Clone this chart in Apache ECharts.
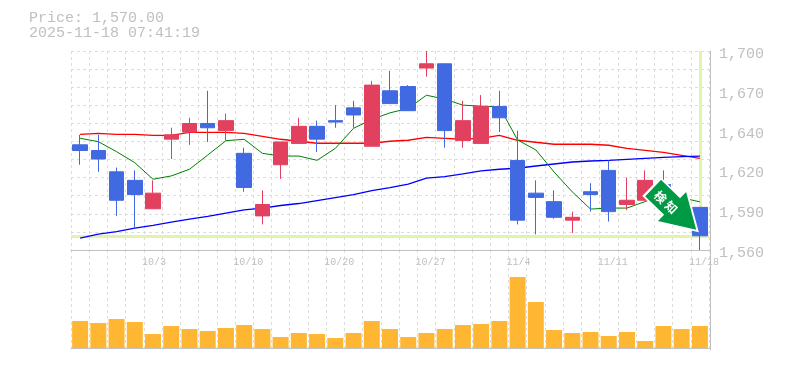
<!DOCTYPE html>
<html><head><meta charset="utf-8">
<style>html,body{margin:0;padding:0;background:#fff}#c{width:785px;height:370px}</style>
<script src="https://cdn.jsdelivr.net/npm/echarts@6/dist/echarts.min.js"></script>
</head><body><div id="c"></div>
<script>
const titleLines = ['Price: 1,570.00', '2025-11-18 07:41:19'];
const dates = ['9/29','9/30','10/1','10/2','10/3','10/6','10/7','10/8','10/9','10/10','10/14','10/15','10/16','10/17','10/20','10/21','10/22','10/23','10/24','10/27','10/28','10/29','10/30','10/31','11/4','11/5','11/6','11/7','11/10','11/11','11/12','11/13','11/14','11/17','11/18'];
const shownDates = ['10/3','10/10','10/20','10/27','11/4','11/11','11/18'];
const priceTickLabels = ['1,560','1,590','1,620','1,640','1,670','1,700'];
const lastPrice = 1570;
const signalText = '検\u2005知';
// open, close, low, high
const ohlc = [
[1634,1630,1620,1641],[1630,1624,1615,1641],[1615,1595,1584,1618],[1609,1599,1575,1616],[1589,1600,1589,1609],
[1638,1641,1624,1646],[1643,1649,1634,1653],[1649,1646,1636,1672],[1644,1651,1637,1656],[1628,1604,1601,1632],
[1584,1592,1578,1602],[1620,1636,1610,1636],[1635,1647,1635,1653],[1647,1638,1629,1651],[1651,1650,1646,1662],
[1660,1655,1646,1665],[1633,1676,1633,1679],[1672,1663,1663,1686],[1675,1658,1658,1676],[1688,1691,1682,1700],
[1691,1644,1632,1691],[1637,1651,1632,1665],[1635,1661,1635,1669],[1661,1653,1643,1672],[1623,1581,1578,1644],
[1600,1597,1571,1609],[1594,1583,1582,1602],[1581,1583,1572,1587],[1601,1599,1587,1607],[1616,1587,1580,1623],
[1592,1595,1588,1611],[1595,1609,1595,1616],[1606,1598,1594,1616],[1590,1582,1580,1592],[1590,1570,1560,1590]];
const maShort = [1638.6,1636.2,1629.2,1621.4,1609.8,1612.1,1616.8,1626.8,1636.9,1637.9,1628,1626.1,1626.1,1623.1,1631.5,1645.6,1651.9,1656.5,1659.6,1668.9,1666.1,1661.9,1661.2,1660.7,1637.4,1630.4,1614.9,1600.9,1588.8,1589.5,1589.5,1594.1,1598.8,1596.7,1593.9];
const maMid = [1641.4,1642.1,1641.4,1641.4,1640.7,1640.7,1642.8,1642.8,1642.8,1642.1,1640,1637.9,1636.5,1635.1,1635.1,1635.1,1635.1,1636.5,1637.2,1639.3,1638.6,1637.9,1638.6,1640.7,1637.2,1635.8,1634.4,1634.4,1634.4,1633.7,1631.5,1630.1,1628.7,1626.6,1624.5];
const maLong = [1568.4,1571.2,1573,1575.4,1577.3,1579.6,1581.7,1583.6,1586,1588.3,1589.5,1591.3,1592.7,1594.8,1596.9,1599,1601.8,1603.9,1606.3,1610.5,1611.6,1613.5,1615.6,1616.8,1617.5,1619.1,1620.5,1621.9,1622.6,1623.1,1623.8,1624.5,1625.2,1625.7,1626.1];
const volume = [27,25,29,26,14,22,19,17,20,23,19,11,15,14,10,15,27,19,11,15,19,23,24,27,71,46,18,15,16,12,16,7,22,19,22];

const GREY='#c0c0c0', DASH='#dddddd', FONT='"Liberation Mono", monospace';
const splitX={show:true,interval:0,lineStyle:{color:DASH,type:[3,3],width:1}};
const lastDate=dates[dates.length-1];
const arrowPath='path://M0,9.5 L26,9.5 L26,0 L62,21.5 L26,43 L26,33.5 L0,33.5 Z';
const chart=echarts.init(document.getElementById('c'),null,{renderer:'canvas'});
chart.setOption({
 animation:false,
 backgroundColor:'#fff',
 title:{text:titleLines.join('\n'),left:29,top:11,padding:0,textStyle:{fontFamily:FONT,fontSize:15,lineHeight:15,fontWeight:'normal',color:GREY}},
 grid:[{left:71,width:638,top:51,height:199},{left:71,width:638,top:250,height:100},{left:71,width:638,top:54,height:199}],
 xAxis:[
  {type:'category',gridIndex:0,data:dates,boundaryGap:true,
   axisLine:{show:true,lineStyle:{color:GREY,width:1}},axisTick:{show:false},splitLine:splitX,
   axisLabel:{interval:(i,v)=>shownDates.includes(v),align:'left',padding:[0,0,0,-11],margin:7,fontFamily:FONT,fontSize:10,color:GREY,hideOverlap:false,showMaxLabel:true}},
  {type:'category',gridIndex:1,data:dates,boundaryGap:true,
   axisLine:{show:true,lineStyle:{color:GREY,width:1}},axisTick:{show:false},splitLine:splitX,axisLabel:{show:false}},
  {type:'category',gridIndex:2,data:dates,show:false}
 ],
 yAxis:[
  {type:'value',gridIndex:0,min:1560,max:1700,show:false,splitLine:{show:false}},
  {type:'value',gridIndex:0,min:0,max:11,interval:1,position:'left',axisLine:{show:false},axisTick:{show:false},axisLabel:{show:false},
   splitLine:{show:true,lineStyle:{color:DASH,type:[3,3],width:1}}},
  {type:'value',gridIndex:0,min:0,max:5,interval:1,position:'right',offset:1,axisLine:{show:true,lineStyle:{color:GREY,width:1}},axisTick:{show:false},
   splitLine:{show:false},axisLabel:{show:false}},
  {type:'value',gridIndex:1,min:-2,max:98,position:'right',offset:1,axisLine:{show:true,lineStyle:{color:GREY,width:1}},axisTick:{show:false},axisLabel:{show:false},splitLine:{show:false}},
  {type:'value',gridIndex:2,min:0,max:5,interval:1,position:'right',offset:1,axisLine:{show:false},axisTick:{show:false},splitLine:{show:false},
   axisLabel:{margin:9,fontFamily:FONT,fontSize:15,color:GREY,formatter:v=>priceTickLabels[v]}}
 ],
 series:[
  {type:'line',name:'guide',xAxisIndex:0,yAxisIndex:0,data:[],z:1,silent:true,
   markLine:{z:1,silent:true,symbol:'none',label:{show:false},animation:false,
    lineStyle:{color:'#e1f5a9',width:3,type:'solid'},
    data:[{yAxis:lastPrice},[{coord:[lastDate,1700]},{coord:[lastDate,lastPrice]}]]}},
  {type:'line',name:'mid',xAxisIndex:0,yAxisIndex:0,data:maMid,z:2,symbol:'none',lineStyle:{color:'#ff0000',width:1.3}},
  {type:'line',name:'long',xAxisIndex:0,yAxisIndex:0,data:maLong,z:2,symbol:'none',lineStyle:{color:'#0000ff',width:1.3}},
  {type:'line',name:'short',xAxisIndex:0,yAxisIndex:0,data:maShort,z:2,symbol:'none',lineStyle:{color:'#008000',width:1}},
  {type:'candlestick',xAxisIndex:0,yAxisIndex:0,data:ohlc,z:3,barWidth:15,
   itemStyle:{color:'#e2405f',color0:'#4169e1',borderColor:'#e2405f',borderColor0:'#4169e1',borderWidth:1},
   markPoint:{z:6,silent:true,animation:false,
    data:[
     {coord:[lastDate,lastPrice],symbol:arrowPath,symbolSize:[63,44],symbolRotate:-44,symbolKeepAspect:false,symbolOffset:[-25,-26.6],
      itemStyle:{color:'#009944',borderColor:'#ffffff',borderWidth:2},label:{show:false}},
     {coord:[lastDate,lastPrice],symbol:'circle',symbolSize:1,itemStyle:{color:'rgba(0,0,0,0)'},
      label:{show:true,formatter:signalText,position:'inside',rotate:-44,offset:[-47.7,-0.5],color:'#fff',fontSize:12,fontWeight:'bold',fontFamily:'"Noto Sans CJK JP"'}}
    ]}},
  {type:'bar',xAxisIndex:1,yAxisIndex:3,data:volume,barWidth:16,itemStyle:{color:'#ffb733'},z:2}
 ]
});
</script></body></html>
